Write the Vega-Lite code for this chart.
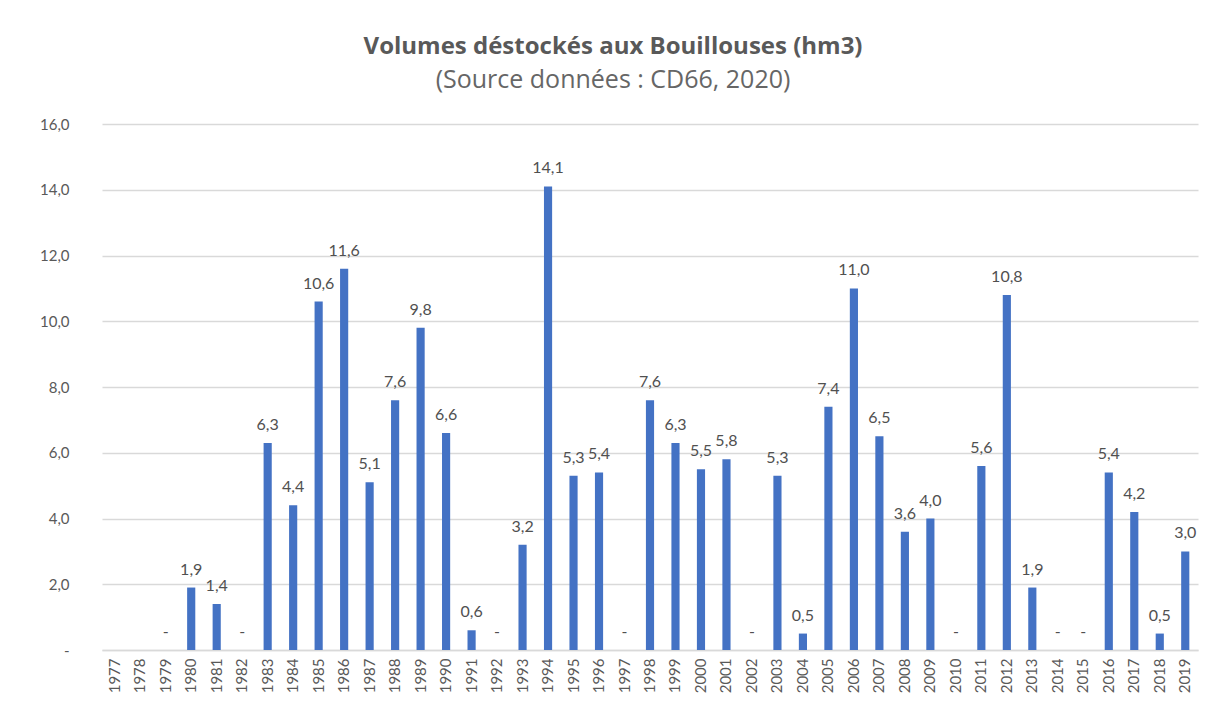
{
  "$schema": "https://vega.github.io/schema/vega-lite/v6.json",
  "width": 1096,
  "height": 526,
  "autosize": {"type": "none"},
  "padding": {"left": 102, "top": 124, "right": 12, "bottom": 57},
  "background": "white",
  "config": {
    "locale": {"number": {"decimal": ",", "thousands": " ", "grouping": [3], "currency": ["", " €"]}},
    "font": "Lato",
    "view": {"stroke": null}
  },
  "title": {
    "text": "Volumes déstockés aux Bouillouses (hm3)",
    "subtitle": "(Source données : CD66, 2020)",
    "anchor": "middle",
    "dx": -37,
    "offset": 24,
    "font": "Open Sans",
    "fontSize": 24,
    "fontWeight": "bold",
    "color": "#595959",
    "subtitleFont": "Open Sans",
    "subtitleFontSize": 25,
    "subtitleColor": "#666666",
    "subtitlePadding": 9
  },
  "data": {
    "values": [
      {"annee": "1977", "v": null},
      {"annee": "1978", "v": null},
      {"annee": "1979", "v": 0},
      {"annee": "1980", "v": 1.9},
      {"annee": "1981", "v": 1.4},
      {"annee": "1982", "v": 0},
      {"annee": "1983", "v": 6.3},
      {"annee": "1984", "v": 4.4},
      {"annee": "1985", "v": 10.6},
      {"annee": "1986", "v": 11.6},
      {"annee": "1987", "v": 5.1},
      {"annee": "1988", "v": 7.6},
      {"annee": "1989", "v": 9.8},
      {"annee": "1990", "v": 6.6},
      {"annee": "1991", "v": 0.6},
      {"annee": "1992", "v": 0},
      {"annee": "1993", "v": 3.2},
      {"annee": "1994", "v": 14.1},
      {"annee": "1995", "v": 5.3},
      {"annee": "1996", "v": 5.4},
      {"annee": "1997", "v": 0},
      {"annee": "1998", "v": 7.6},
      {"annee": "1999", "v": 6.3},
      {"annee": "2000", "v": 5.5},
      {"annee": "2001", "v": 5.8},
      {"annee": "2002", "v": 0},
      {"annee": "2003", "v": 5.3},
      {"annee": "2004", "v": 0.5},
      {"annee": "2005", "v": 7.4},
      {"annee": "2006", "v": 11.0},
      {"annee": "2007", "v": 6.5},
      {"annee": "2008", "v": 3.6},
      {"annee": "2009", "v": 4.0},
      {"annee": "2010", "v": 0},
      {"annee": "2011", "v": 5.6},
      {"annee": "2012", "v": 10.8},
      {"annee": "2013", "v": 1.9},
      {"annee": "2014", "v": 0},
      {"annee": "2015", "v": 0},
      {"annee": "2016", "v": 5.4},
      {"annee": "2017", "v": 4.2},
      {"annee": "2018", "v": 0.5},
      {"annee": "2019", "v": 3.0}
    ]
  },
  "encoding": {
    "x": {
      "field": "annee",
      "type": "ordinal",
      "sort": null,
      "scale": {
        "domain": ["1977","1978","1979","1980","1981","1982","1983","1984","1985","1986","1987","1988","1989","1990","1991","1992","1993","1994","1995","1996","1997","1998","1999","2000","2001","2002","2003","2004","2005","2006","2007","2008","2009","2010","2011","2012","2013","2014","2015","2016","2017","2018","2019"],
        "paddingInner": 0.68,
        "paddingOuter": 0.34
      },
      "axis": {
        "title": null,
        "labelAngle": -90,
        "labelFontSize": 15,
        "labelColor": "#595959",
        "labelFont": "Lato",
        "ticks": false,
        "labelPadding": 8,
        "labelOverlap": false,
        "domainColor": "#d9d9d9",
        "domainWidth": 1.5
      }
    },
    "y": {
      "field": "v",
      "type": "quantitative",
      "scale": {"domain": [0, 16], "nice": false},
      "axis": {
        "title": null,
        "values": [0, 2, 4, 6, 8, 10, 12, 14, 16],
        "format": ".1f",
        "labelExpr": "datum.value === 0 ? '-' : datum.label",
        "labelOverlap": false,
        "labelFontSize": 15,
        "labelColor": "#595959",
        "labelFont": "Lato",
        "labelPadding": 33,
        "ticks": false,
        "domain": false,
        "gridColor": "#d9d9d9",
        "gridWidth": 1.5
      }
    }
  },
  "layer": [
    {
      "mark": {"type": "bar", "color": "#4472c4"}
    },
    {
      "transform": [{"filter": "datum.v != null"}],
      "mark": {"type": "text", "baseline": "bottom", "dy": -10, "fontSize": 16, "color": "#505050", "font": "Lato"},
      "encoding": {
        "text": {
          "condition": {"test": "datum.v === 0", "value": "-"},
          "field": "v",
          "type": "quantitative",
          "format": ".1f"
        }
      }
    }
  ]
}
